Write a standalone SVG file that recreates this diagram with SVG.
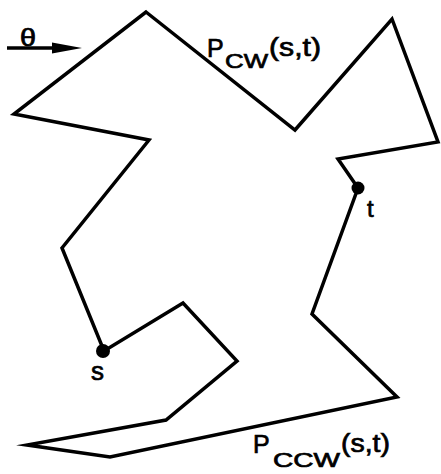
<svg xmlns="http://www.w3.org/2000/svg" width="441" height="474" viewBox="0 0 441 474">
<style>
.edge{fill:none;stroke:#000;stroke-width:3.5;stroke-linejoin:miter;stroke-miterlimit:10}
text{font-family:"Liberation Sans",Arial,sans-serif;fill:#000;stroke:#000;stroke-width:0.7}
</style>
<rect width="441" height="474" fill="#fff"/>
<g id="connectors">
<polygon id="polygon" class="edge" points="146,12 295,130 392,19 438,142 338,159 358,188 312,314 397,397 110,457 27,445 166,420 237,361 183,303 104,351 62,248 149,140 14,114"/>
<line id="theta-arrow" x1="7" y1="48" x2="54" y2="48" stroke="#000" stroke-width="3.5"/>
<polygon points="52,42.5 82,48 52,53.5" fill="#000"/>
</g>
<g id="theta"><text x="20" y="46" font-size="23" textLength="16" lengthAdjust="spacingAndGlyphs">θ</text></g>
<g id="s"><circle cx="103" cy="351" r="7" fill="#000"/><text x="91" y="380" font-size="26">s</text></g>
<g id="t"><circle cx="358" cy="188" r="6.5" fill="#000"/><text x="367" y="217" font-size="24">t</text></g>
<g id="pcw">
<text x="207" y="57" font-size="25">P</text>
<text x="225" y="68" font-size="21" textLength="43" lengthAdjust="spacingAndGlyphs">CW</text>
<text x="269" y="56" font-size="25" textLength="52" lengthAdjust="spacingAndGlyphs">(s,t)</text>
</g>
<g id="pccw">
<text x="253" y="453" font-size="25">P</text>
<text x="273" y="467" font-size="21" textLength="67" lengthAdjust="spacingAndGlyphs">CCW</text>
<text x="341" y="452" font-size="25" textLength="49" lengthAdjust="spacingAndGlyphs">(s,t)</text>
</g>
</svg>
